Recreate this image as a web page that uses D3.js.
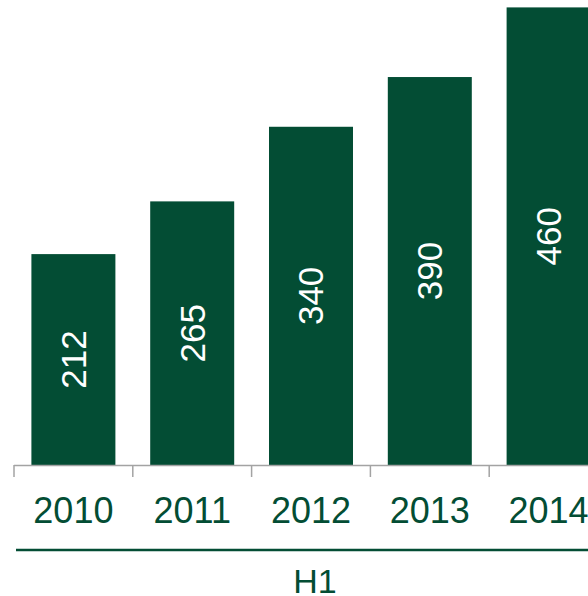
<!DOCTYPE html>
<html>
<head>
<meta charset="utf-8">
<script src="https://cdn.jsdelivr.net/npm/d3@7/dist/d3.min.js"></script>
<style>
  html, body { margin: 0; padding: 0; background: #fff; }
  svg { display: block; }
  text { font-family: "Liberation Sans", Arial, sans-serif; }
</style>
</head>
<body>
<script>
// First-half figures by year
const years = ["2010", "2011", "2012", "2013", "2014"];
const values = [212, 265, 340, 390, 460];
const groupLabel = "H1";

const W = 588, H = 596;
const green = "#034d34";
const axisGrey = "#a3a3a3";

const svg = d3.select("body").append("svg")
  .attr("width", W).attr("height", H);

const x = d3.scaleBand()
  .domain(years)
  .range([14, 608])
  .paddingInner(0.293)
  .paddingOuter(0.1465);

const y = d3.scaleLinear()
  .domain([0, 460])
  .range([465, 7.4]);

// bars
svg.append("g").selectAll("rect")
  .data(values)
  .join("rect")
  .attr("x", (d, i) => x(years[i]))
  .attr("width", x.bandwidth())
  .attr("y", d => y(d))
  .attr("height", d => y(0) - y(d))
  .attr("fill", green);

// value labels, rotated inside each bar
svg.append("g").selectAll("text")
  .data(values)
  .join("text")
  .attr("transform", (d, i) =>
    `translate(${x(years[i]) + x.bandwidth() / 2},${(y(d) + y(0)) / 2}) rotate(-90)`)
  .attr("text-anchor", "middle")
  .attr("dy", "0.355em")
  .attr("font-size", 35)
  .attr("fill", "#fff")
  .text(d => d);

// category axis: baseline with boundary ticks
const axisG = svg.append("g");
axisG.append("line")
  .attr("x1", 14).attr("x2", W)
  .attr("y1", y(0) + 0.5).attr("y2", y(0) + 0.5)
  .attr("stroke", axisGrey).attr("stroke-width", 1.5);

const step = x.step();
const boundaries = years.map((d, i) => x.range()[0] + i * step);
axisG.selectAll("line.tick")
  .data(boundaries)
  .join("line")
  .attr("class", "tick")
  .attr("x1", d => d).attr("x2", d => d)
  .attr("y1", y(0)).attr("y2", y(0) + 12)
  .attr("stroke", axisGrey).attr("stroke-width", 1.5);

axisG.selectAll("text.year")
  .data(years)
  .join("text")
  .attr("class", "year")
  .attr("x", d => x(d) + x.bandwidth() / 2)
  .attr("y", 522.5)
  .attr("text-anchor", "middle")
  .attr("font-size", 36)
  .attr("fill", green)
  .text(d => d);

// group bracket line and label
svg.append("line")
  .attr("x1", 16).attr("x2", W)
  .attr("y1", 550).attr("y2", 550)
  .attr("stroke", green).attr("stroke-width", 2.7);

svg.append("text")
  .attr("x", 315)
  .attr("y", 592.5)
  .attr("text-anchor", "middle")
  .attr("font-size", 34)
  .attr("fill", green)
  .text(groupLabel);
</script>
</body>
</html>
